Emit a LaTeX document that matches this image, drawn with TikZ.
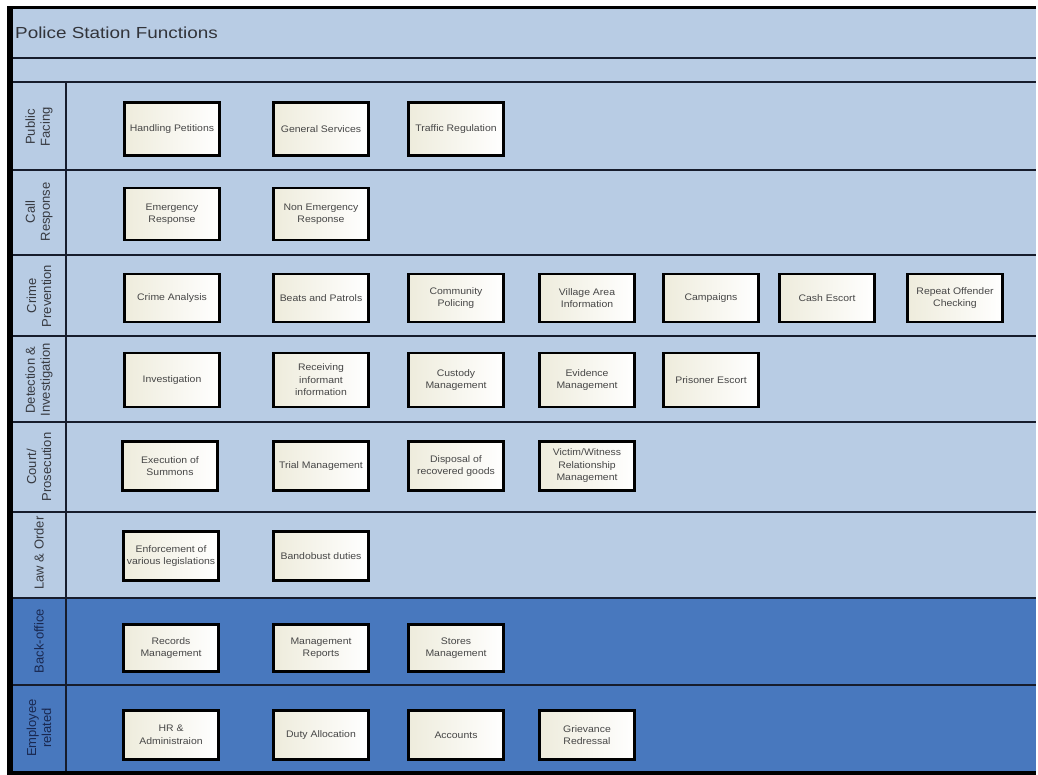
\documentclass[tikz,border=0pt]{standalone}
\usepackage{fontspec}
\setmainfont{Liberation Sans}
\newfontfamily\titlefont[FakeStretch=1.18]{Liberation Sans}
\newfontfamily\boxfam[FakeStretch=1.1]{Liberation Sans}
\definecolor{bandlight}{RGB}{184,204,228}
\definecolor{banddark}{RGB}{72,120,190}
\definecolor{rulecol}{RGB}{22,28,44}
\definecolor{boxtext}{RGB}{70,70,70}
\definecolor{labeltext}{RGB}{55,58,65}
\definecolor{darklabel}{RGB}{25,40,80}
\definecolor{titletext}{RGB}{50,52,58}
\definecolor{boxl}{RGB}{238,236,220}
\begin{document}
\begin{tikzpicture}[x=1pt,y=-1pt,
  fbox/.style={draw=black, line width=2.2, left color=boxl, right color=white,
    minimum width=95, inner sep=1, align=center, text=boxtext,
    font=\boxfam\fontsize{9.5}{12.5}\selectfont},
  lanelabel/.style={rotate=90, align=center, inner sep=0, text=labeltext,
    font=\fontsize{13}{15}\selectfont},
  darklane/.style={lanelabel, text=darklabel},
  rowrule/.style={draw=rulecol, line width=2.5}]
\useasboundingbox (0,0) rectangle (1038,775);
% bands
\fill[bandlight] (7,7) rectangle (1036,598);
\fill[banddark] (7,598) rectangle (1036,772);
% rules
\foreach \yy in {58,82,170,255,336,422,512,598,685}
  \draw[rowrule] (9,\yy) -- (1036,\yy);
\draw[rowrule] (66,82) -- (66,771);
% borders
\draw[black,line width=3] (7,7.5) -- (1036,7.5);
\fill[black] (6.5,6) rectangle (12.5,775);
\fill[black] (7,770.5) rectangle (1036,775);
% title
\node[anchor=base west, inner sep=0, text=titletext,
  font=\titlefont\fontsize{16}{18}\selectfont] (title) at (15,39) {Police Station Functions};
% lane labels
\node[lanelabel] (l1) at (39,127) {Public\\Facing};
\node[lanelabel] (l2) at (39,212) {Call\\Response};
\node[lanelabel] (l3) at (39,296) {Crime\\Prevention};
\node[lanelabel] (l4) at (39,380) {Detection \&\\Investigation};
\node[lanelabel] (l5) at (39,467) {Court/\\Prosecution};
\node[lanelabel] (l6) at (39,553) {Law \& Order};
\node[darklane] (l7) at (39,641) {Back-office};
\node[darklane] (l8) at (39,728) {Employee\\related};
% row 1
\node[fbox, minimum height=53] (hp) at (172,129) {Handling Petitions};
\node[fbox, minimum height=53] (gs) at (321,129) {General Services};
\node[fbox, minimum height=53] (tr) at (456,129) {Traffic Regulation};
% row 2
\node[fbox, minimum height=52] (er) at (172,214) {Emergency\\Response};
\node[fbox, minimum height=52] (ner) at (321,214) {Non Emergency\\Response};
% row 3
\node[fbox, minimum height=48] (ca) at (172,298) {Crime Analysis};
\node[fbox, minimum height=48] (bp) at (321,298) {Beats and Patrols};
\node[fbox, minimum height=48] (cp) at (456,298) {Community\\Policing};
\node[fbox, minimum height=48] (va) at (587,298) {Village Area\\Information};
\node[fbox, minimum height=48] (camp) at (711,298) {Campaigns};
\node[fbox, minimum height=48] (ce) at (827,298) {Cash Escort};
\node[fbox, minimum height=48] (ro) at (955,298) {Repeat Offender\\Checking};
% row 4
\node[fbox, minimum height=54] (inv) at (172,380) {Investigation};
\node[fbox, minimum height=54] (rii) at (321,380) {Receiving\\informant\\information};
\node[fbox, minimum height=54] (cm) at (456,380) {Custody\\Management};
\node[fbox, minimum height=54] (em) at (587,380) {Evidence\\Management};
\node[fbox, minimum height=54] (pe) at (711,380) {Prisoner Escort};
% row 5
\node[fbox, minimum height=49] (es) at (170,466) {Execution of\\Summons};
\node[fbox, minimum height=49] (tm) at (321,466) {Trial Management};
\node[fbox, minimum height=49] (dr) at (456,466) {Disposal of\\recovered goods};
\node[fbox, minimum height=49] (vw) at (587,466) {Victim/Witness\\Relationship\\Management};
% row 6
\node[fbox, minimum height=49] (el) at (171,556) {Enforcement of\\various legislations};
\node[fbox, minimum height=49] (bd) at (321,556) {Bandobust duties};
% row 7
\node[fbox, minimum height=47] (rm) at (171,648) {Records\\Management};
\node[fbox, minimum height=47] (mr) at (321,648) {Management\\Reports};
\node[fbox, minimum height=47] (sm) at (456,648) {Stores\\Management};
% row 8
\node[fbox, minimum height=49] (hr) at (171,735) {HR \&\\Administraion};
\node[fbox, minimum height=49] (da) at (321,735) {Duty Allocation};
\node[fbox, minimum height=49] (acc) at (456,735) {Accounts};
\node[fbox, minimum height=49] (gr) at (587,735) {Grievance\\Redressal};
\end{tikzpicture}
\end{document}
